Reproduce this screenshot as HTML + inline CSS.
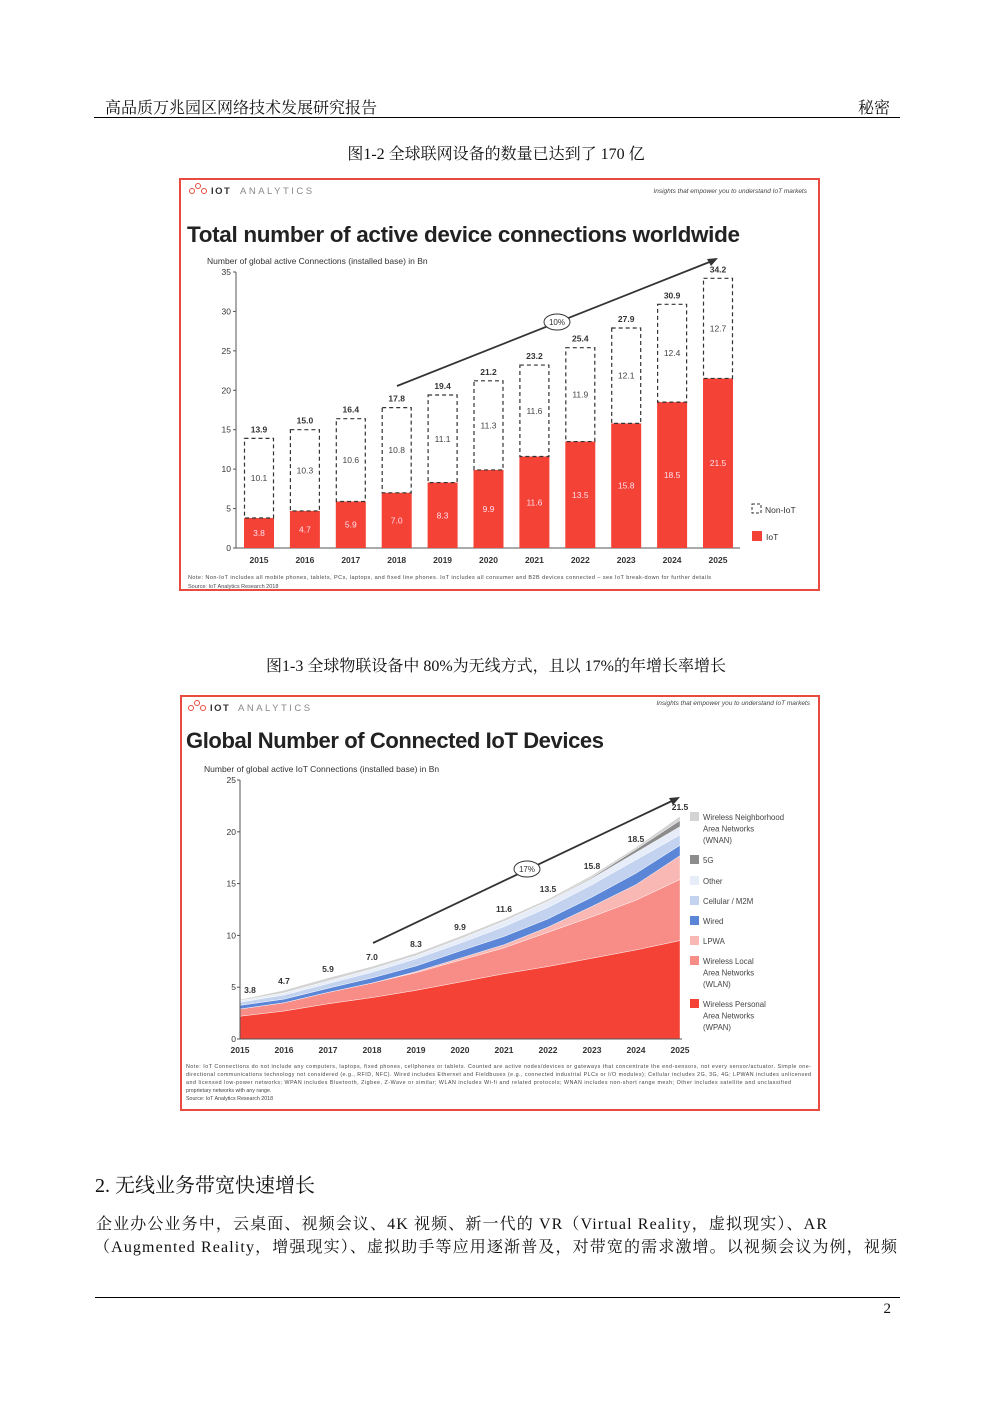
<!DOCTYPE html>
<html><head><meta charset="utf-8"><style>
body{margin:0;background:#fff}
svg{display:block}
.cn{font-family:"Liberation Serif","Noto Serif CJK SC",serif}
.s{font-family:"Liberation Sans","DejaVu Sans",sans-serif}
</style></head><body>
<svg id="g" width="992" height="1403" xmlns="http://www.w3.org/2000/svg">
<rect width="992" height="1403" fill="#fff"/>
<text x="105" y="113" class="cn" font-size="16" fill="#111">高品质万兆园区网络技术发展研究报告</text>
<text x="890" y="113" class="cn" font-size="16" fill="#111" text-anchor="end">秘密</text>
<line x1="94" y1="117.5" x2="900" y2="117.5" stroke="#000" stroke-width="1"/>
<text x="496" y="159" class="cn" font-size="16" fill="#111" text-anchor="middle">图1-2 全球联网设备的数量已达到了 170 亿</text>
<rect x="180" y="179" width="639" height="411" fill="#fff" stroke="#e84a40" stroke-width="2"/>
<text x="496" y="671" class="cn" font-size="16" fill="#111" text-anchor="middle">图1-3 全球物联设备中 80%为无线方式，且以 17%的年增长率增长</text>
<rect x="181" y="696" width="638" height="414" fill="#fff" stroke="#e84a40" stroke-width="2"/>
<text x="95" y="1192" class="cn" font-size="20" fill="#111">2.  无线业务带宽快速增长</text>
<text x="96" y="1229" class="cn" font-size="16" fill="#111" textLength="731">企业办公业务中，云桌面、视频会议、4K 视频、新一代的 VR（Virtual Reality，虚拟现实）、AR</text>
<text x="94" y="1252" class="cn" font-size="16" fill="#111" textLength="803">（Augmented Reality，增强现实）、虚拟助手等应用逐渐普及，对带宽的需求激增。以视频会议为例，视频</text>
<line x1="95" y1="1297.5" x2="900" y2="1297.5" stroke="#000" stroke-width="1"/>
<text x="891" y="1313" class="cn" font-size="15" fill="#111" text-anchor="end">2</text>

<g class="s">
<circle cx="192" cy="191" r="2.5" fill="none" stroke="#e84a40"/><circle cx="198" cy="186" r="2.5" fill="none" stroke="#e84a40"/><circle cx="204" cy="191" r="2.5" fill="none" stroke="#e84a40"/>
<text x="211" y="194" font-size="9.5" font-weight="bold" fill="#333" letter-spacing="1.5">IOT</text>
<text x="240" y="194" font-size="9.5" fill="#888" letter-spacing="2.5">ANALYTICS</text>
<text x="807" y="193" font-size="6.5" font-style="italic" fill="#444" text-anchor="end">Insights that empower you to understand IoT markets</text>
<text x="187" y="242" font-size="22.5" font-weight="bold" fill="#222" textLength="553">Total number of active device connections worldwide</text>
<text x="207" y="264" font-size="8.5" fill="#333">Number of global active Connections (installed base) in Bn</text>
<text x="188" y="579" font-size="5.5" fill="#444" textLength="523">Note: Non-IoT includes all mobile phones, tablets, PCs, laptops, and fixed line phones. IoT includes all consumer and B2B devices connected – see IoT break-down for further details</text>
<text x="188" y="588" font-size="5.5" fill="#444">Source: IoT Analytics Research 2018</text>
</g>
<g class="s">
<circle cx="191" cy="708" r="2.5" fill="none" stroke="#e84a40"/><circle cx="197" cy="703" r="2.5" fill="none" stroke="#e84a40"/><circle cx="203" cy="708" r="2.5" fill="none" stroke="#e84a40"/>
<text x="210" y="711" font-size="9.5" font-weight="bold" fill="#333" letter-spacing="1.5">IOT</text>
<text x="238" y="711" font-size="9.5" fill="#888" letter-spacing="2.5">ANALYTICS</text>
<text x="810" y="705" font-size="6.5" font-style="italic" fill="#444" text-anchor="end">Insights that empower you to understand IoT markets</text>
<text x="186" y="748" font-size="22" font-weight="bold" fill="#222" textLength="418">Global Number of Connected IoT Devices</text>
<text x="204" y="772" font-size="8.5" fill="#333">Number of global active IoT Connections (installed base) in Bn</text>
<text x="186" y="1068" font-size="5.3" fill="#444" textLength="625">Note: IoT Connections do not include any computers, laptops, fixed phones, cellphones or tablets. Counted are active nodes/devices or gateways that concentrate the end-sensors, not every sensor/actuator. Simple one-</text>
<text x="186" y="1076" font-size="5.3" fill="#444" textLength="625">directional communications technology not considered (e.g., RFID, NFC). Wired includes Ethernet and Fieldbuses (e.g., connected industrial PLCs or I/O modules); Cellular includes 2G, 3G, 4G; LPWAN includes unlicensed</text>
<text x="186" y="1084" font-size="5.3" fill="#444" textLength="605">and licensed low-power networks; WPAN includes Bluetooth, Zigbee, Z-Wave or similar; WLAN includes Wi-fi and related protocols; WNAN includes non-short range mesh; Other includes satellite and unclassified</text>
<text x="186" y="1092" font-size="5.3" fill="#444">proprietary networks with any range.</text>
<text x="186" y="1100" font-size="5.3" fill="#444">Source: IoT Analytics Research 2018</text>
</g>
<g id="c1" class="s"></g>
<g id="c2" class="s"></g>
</svg>
<script>
var NS="http://www.w3.org/2000/svg";
function el(p,t,a,txt){var e=document.createElementNS(NS,t);for(var k in a)e.setAttribute(k,a[k]);if(txt!==undefined)e.textContent=txt;p.appendChild(e);return e;}
var c1=document.getElementById("c1");
var y1=function(v){return 548-7.886*v;};
el(c1,"line",{x1:236,y1:272,x2:236,y2:548,stroke:"#555","stroke-width":1});
el(c1,"line",{x1:236,y1:548,x2:740,y2:548,stroke:"#555","stroke-width":1});
for(var v=0;v<=35;v+=5){el(c1,"line",{x1:233,y1:y1(v),x2:236,y2:y1(v),stroke:"#555"});el(c1,"text",{x:231,y:y1(v)+3,"font-size":8.5,fill:"#333","text-anchor":"end"},String(v));}
var iot=["3.8","4.7","5.9","7.0","8.3","9.9","11.6","13.5","15.8","18.5","21.5"];
var non=["10.1","10.3","10.6","10.8","11.1","11.3","11.6","11.9","12.1","12.4","12.7"];
var tot=["13.9","15.0","16.4","17.8","19.4","21.2","23.2","25.4","27.9","30.9","34.2"];
for(var i=0;i<11;i++){
 var cx=259+45.9*i,a=+iot[i],t=+tot[i];
 el(c1,"rect",{x:cx-15,y:y1(a),width:30,height:548-y1(a),fill:"#f44336"});
 el(c1,"rect",{x:cx-14.5,y:y1(t),width:29,height:y1(a)-y1(t),fill:"none",stroke:"#333","stroke-dasharray":"4,3","stroke-width":1.2});
 el(c1,"text",{x:cx,y:y1(a/2)+3,"font-size":8.5,fill:"#fde","text-anchor":"middle"},iot[i]);
 el(c1,"text",{x:cx,y:y1((a+t)/2)+3,"font-size":8.5,fill:"#444","text-anchor":"middle"},non[i]);
 el(c1,"text",{x:cx,y:y1(t)-6,"font-size":8.5,"font-weight":"bold",fill:"#333","text-anchor":"middle"},tot[i]);
 el(c1,"text",{x:cx,y:563,"font-size":8.5,"font-weight":"bold",fill:"#333","text-anchor":"middle"},String(2015+i));
}
el(c1,"line",{x1:397,y1:386,x2:712,y2:261,stroke:"#333","stroke-width":1.8});
el(c1,"polygon",{points:"718,258 707,259 711,266",fill:"#333"});
el(c1,"ellipse",{cx:557,cy:322,rx:13,ry:8,fill:"#fff",stroke:"#333"});
el(c1,"text",{x:557,y:325,"font-size":8,fill:"#333","text-anchor":"middle"},"10%");
el(c1,"rect",{x:752,y:504,width:9,height:9,fill:"none",stroke:"#333","stroke-dasharray":"3,2"});
el(c1,"text",{x:765,y:513,"font-size":8.5,fill:"#333"},"Non-IoT");
el(c1,"rect",{x:752,y:531,width:10,height:10,fill:"#f44336"});
el(c1,"text",{x:766,y:540,"font-size":8.5,fill:"#333"},"IoT");
var c2=document.getElementById("c2");
var X=function(i){return 240+44*i;},Y=function(v){return 1039-10.36*v;};
var L=[
 [0,0,0,0,0,0,0,0,0,0,0],
 [2.2,2.7,3.4,4.0,4.7,5.5,6.3,7.0,7.8,8.6,9.5],
 [2.9,3.5,4.5,5.4,6.4,7.6,8.8,10.3,11.8,13.4,15.4],
 [2.9,3.5,4.5,5.4,6.5,7.8,9.1,10.8,12.8,14.9,17.7],
 [3.25,3.85,4.9,5.9,7.05,8.5,9.9,11.6,13.7,16.0,18.7],
 [3.55,4.25,5.35,6.45,7.75,9.25,10.85,12.7,14.9,17.3,19.7],
 [3.7,4.45,5.6,6.75,8.05,9.65,11.35,13.25,15.5,18.0,20.5],
 [3.7,4.45,5.6,6.75,8.05,9.65,11.35,13.3,15.6,18.3,21.1],
 [3.8,4.7,5.9,7.0,8.3,9.9,11.6,13.5,15.8,18.5,21.5]];
var C=["#f44336","#f88c86","#f9b8b3","#5b86d8","#c3d3ef","#e6ecf8","#8c8c8c","#d3d3d3"];
for(var k=1;k<L.length;k++){
 var p=[];for(var i=0;i<11;i++)p.push(X(i)+","+Y(L[k][i]));
 for(var i=10;i>=0;i--)p.push(X(i)+","+Y(L[k-1][i]));
 el(c2,"polygon",{points:p.join(" "),fill:C[k-1],stroke:"#fff","stroke-width":0.4});
}
el(c2,"line",{x1:240,y1:780,x2:240,y2:1039,stroke:"#555"});
el(c2,"line",{x1:240,y1:1039,x2:682,y2:1039,stroke:"#555"});
for(var v=0;v<=25;v+=5){el(c2,"line",{x1:237,y1:Y(v),x2:240,y2:Y(v),stroke:"#555"});el(c2,"text",{x:236,y:Y(v)+3,"font-size":8.5,fill:"#333","text-anchor":"end"},String(v));}
var tl=["3.8","4.7","5.9","7.0","8.3","9.9","11.6","13.5","15.8","18.5","21.5"];
var lx=[250,284,328,372,416,460,504,548,592,636,680],ly=[993,984,972,960,947,930,912,892,869,842,810];
for(var i=0;i<11;i++){
 el(c2,"text",{x:lx[i],y:ly[i],"font-size":8.5,"font-weight":"bold",fill:"#333","text-anchor":"middle"},tl[i]);
 el(c2,"text",{x:X(i),y:1053,"font-size":8.5,"font-weight":"bold",fill:"#333","text-anchor":"middle"},String(2015+i));
}
el(c2,"line",{x1:373,y1:943,x2:674,y2:800,stroke:"#333","stroke-width":1.8});
el(c2,"polygon",{points:"680,797 669,798 673,805",fill:"#333"});
el(c2,"ellipse",{cx:527,cy:869,rx:13,ry:8,fill:"#fff",stroke:"#333"});
el(c2,"text",{x:527,y:872,"font-size":8,fill:"#333","text-anchor":"middle"},"17%");
var lg=[["#d3d3d3",812,["Wireless Neighborhood","Area Networks","(WNAN)"]],["#8c8c8c",855,["5G"]],["#e6ecf8",876,["Other"]],["#c3d3ef",896,["Cellular / M2M"]],["#5b86d8",916,["Wired"]],["#f9b8b3",936,["LPWA"]],["#f88c86",956,["Wireless Local","Area Networks","(WLAN)"]],["#f44336",999,["Wireless Personal","Area Networks","(WPAN)"]]];
lg.forEach(function(d){el(c2,"rect",{x:690,y:d[1],width:9,height:9,fill:d[0]});d[2].forEach(function(s,j){el(c2,"text",{x:703,y:d[1]+8+j*11.5,"font-size":7.8,fill:"#444"},s);});});
</script>
</body></html>
